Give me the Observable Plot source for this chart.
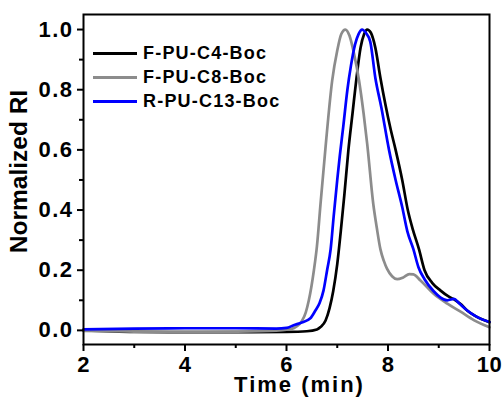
<!DOCTYPE html>
<html>
<head>
<meta charset="utf-8">
<script src="https://cdn.jsdelivr.net/npm/d3@7"></script>
<script src="https://cdn.jsdelivr.net/npm/@observablehq/plot@0.6"></script>
<style>
  html, body { margin: 0; padding: 0; background: #fff; overflow: hidden; }
  #wrap { position: relative; width: 502px; height: 401px; }
  #wrap svg text { font-weight: bold; }
  .legend { position: absolute; left: 93px; top: 41px; font-family: "Liberation Sans", Arial, sans-serif; font-weight: bold; font-size: 18px; letter-spacing: 1.2px; color: #000; }
  .legend .row { display: flex; align-items: center; height: 24px; }
  .legend .sw { width: 44px; height: 3px; margin-right: 6px; }
</style>
</head>
<body>
<div id="wrap"></div>
<script>
// ---- Data ----
const seriesNames = ["F-PU-C4-Boc", "F-PU-C8-Boc", "R-PU-C13-Boc"];
const seriesColors = ["#000000", "#8c8c8c", "#0000ff"];

const timeC4 = [2.0, 3.0, 4.0, 5.0, 6.0, 6.4, 6.6, 6.67, 6.77, 6.85, 6.92, 7.0, 7.07, 7.14, 7.22, 7.3, 7.38, 7.46, 7.53, 7.59, 7.66, 7.75, 7.85, 7.95, 8.05, 8.15, 8.28, 8.39, 8.49, 8.61, 8.72, 8.87, 9.03, 9.2, 9.33, 9.45, 9.56, 9.7, 9.85, 10.0];
const riC4   = [0.0, -0.005, -0.006, -0.006, -0.005, -0.003, 0.003, 0.011, 0.033, 0.075, 0.13, 0.22, 0.33, 0.45, 0.60, 0.72, 0.84, 0.94, 0.985, 1.0, 0.99, 0.94, 0.84, 0.75, 0.67, 0.60, 0.50, 0.40, 0.335, 0.27, 0.2, 0.158, 0.133, 0.112, 0.1, 0.085, 0.066, 0.05, 0.037, 0.027];

const timeC8 = [2.0, 3.0, 4.0, 5.0, 5.8, 6.0, 6.15, 6.25, 6.31, 6.38, 6.44, 6.54, 6.6, 6.67, 6.77, 6.9, 7.0, 7.08, 7.16, 7.24, 7.33, 7.43, 7.52, 7.59, 7.71, 7.78, 7.85, 7.92, 7.98, 8.08, 8.18, 8.3, 8.42, 8.5, 8.64, 8.9, 9.17, 9.43, 9.69, 10.0];
const riC8   = [-0.002, -0.004, -0.005, -0.004, -0.001, 0.002, 0.008, 0.02, 0.033, 0.06, 0.10, 0.2, 0.28, 0.42, 0.61, 0.83, 0.93, 0.985, 1.0, 0.98, 0.92, 0.83, 0.72, 0.62, 0.42, 0.34, 0.27, 0.23, 0.205, 0.18, 0.17, 0.176, 0.187, 0.186, 0.166, 0.122, 0.089, 0.062, 0.034, 0.01];

const timeC13 = [2.0, 3.0, 4.0, 5.0, 5.8, 6.0, 6.14, 6.3, 6.47, 6.57, 6.65, 6.73, 6.8, 6.87, 6.93, 7.0, 7.05, 7.12, 7.2, 7.27, 7.35, 7.42, 7.49, 7.56, 7.65, 7.75, 7.87, 8.02, 8.15, 8.28, 8.38, 8.5, 8.6, 8.72, 8.9, 9.03, 9.17, 9.3, 9.4, 9.56, 9.7, 9.82, 10.0];
const riC13   = [0.003, 0.006, 0.007, 0.007, 0.006, 0.008, 0.017, 0.026, 0.04, 0.066, 0.09, 0.133, 0.2, 0.27, 0.38, 0.5, 0.58, 0.68, 0.8, 0.88, 0.95, 0.985, 1.0, 0.99, 0.96, 0.84, 0.74, 0.6, 0.5, 0.41, 0.33, 0.27, 0.21, 0.17, 0.13, 0.11, 0.1, 0.105, 0.09, 0.066, 0.05, 0.039, 0.028];

const xTicks = [2, 4, 6, 8, 10];
const xMinorTicks = [3, 5, 7, 9];
const yTicks = [0, 0.2, 0.4, 0.6, 0.8, 1.0];
const yMinorTicks = [0.1, 0.3, 0.5, 0.7, 0.9];
const xLabel = "Time (min)";
const yLabel = "Normalized RI";

// ---- Build table ----
const seriesTimes = [timeC4, timeC8, timeC13];
const seriesValues = [riC4, riC8, riC13];
const rows = [];
seriesNames.forEach((name, i) => {
  seriesTimes[i].forEach((t, j) => rows.push({series: name, t, v: seriesValues[i][j]}));
});

const font = '"Liberation Sans", Arial, sans-serif';
const yFmt = d3.format(".1f");

const chart = Plot.plot({
  width: 502,
  height: 401,
  marginLeft: 83,
  marginRight: 13,
  marginTop: 14,
  marginBottom: 57,
  style: {fontFamily: font, background: "#fff", color: "#000", overflow: "visible"},
  x: {domain: [2, 10]},
  y: {domain: [-0.047, 1.05]},
  color: {domain: seriesNames, range: seriesColors},
  marks: [
    Plot.line(rows, {x: "t", y: "v", z: "series", stroke: "series", strokeWidth: 2.7, curve: "monotone-x"}),
    Plot.frame({stroke: "#000", strokeWidth: 2}),
    Plot.axisX({ticks: xTicks, tickSize: 7, tickPadding: 5, strokeWidth: 2, fontSize: 22, label: null}),
    Plot.axisX({ticks: xMinorTicks, tickSize: 4, strokeWidth: 2, tickFormat: () => "", label: null}),
    Plot.axisY({ticks: yTicks, tickSize: 6, tickPadding: 4, strokeWidth: 2, fontSize: 22, tickFormat: yFmt, label: null}),
    Plot.axisY({ticks: yMinorTicks, tickSize: 4, strokeWidth: 2, tickFormat: () => "", label: null}),
    Plot.text([xLabel], {text: d => d, frameAnchor: "bottom", lineAnchor: "middle", textAnchor: "middle", dx: 13, dy: 40, fontSize: 22, fontWeight: "bold"}),
    Plot.text([yLabel], {text: d => d, frameAnchor: "left", lineAnchor: "middle", textAnchor: "middle", rotate: -90, dx: -64, dy: -8, fontSize: 24.5, fontWeight: "bold"})
  ]
});

const wrap = document.getElementById("wrap");
wrap.appendChild(chart);

// Wider glyphs as in the reference: letter-spacing on the tick labels and x title
const xTickStrings = new Set(xTicks.map(String));
const yTickStrings = new Set(yTicks.map(yFmt));
chart.querySelectorAll("text").forEach(t => {
  const s = t.textContent;
  if (s === xLabel) { t.style.letterSpacing = "2px"; }
  else if (yTickStrings.has(s)) { t.style.letterSpacing = "1.5px"; }
  else if (xTickStrings.has(s)) { t.style.letterSpacing = "0.5px"; }
});

// ---- Legend ----
const legend = document.createElement("div");
legend.className = "legend";
seriesNames.forEach((name, i) => {
  const row = document.createElement("div");
  row.className = "row";
  const sw = document.createElement("span");
  sw.className = "sw";
  sw.style.background = seriesColors[i];
  const label = document.createElement("span");
  label.textContent = name;
  row.appendChild(sw);
  row.appendChild(label);
  legend.appendChild(row);
});
wrap.appendChild(legend);
</script>
</body>
</html>
